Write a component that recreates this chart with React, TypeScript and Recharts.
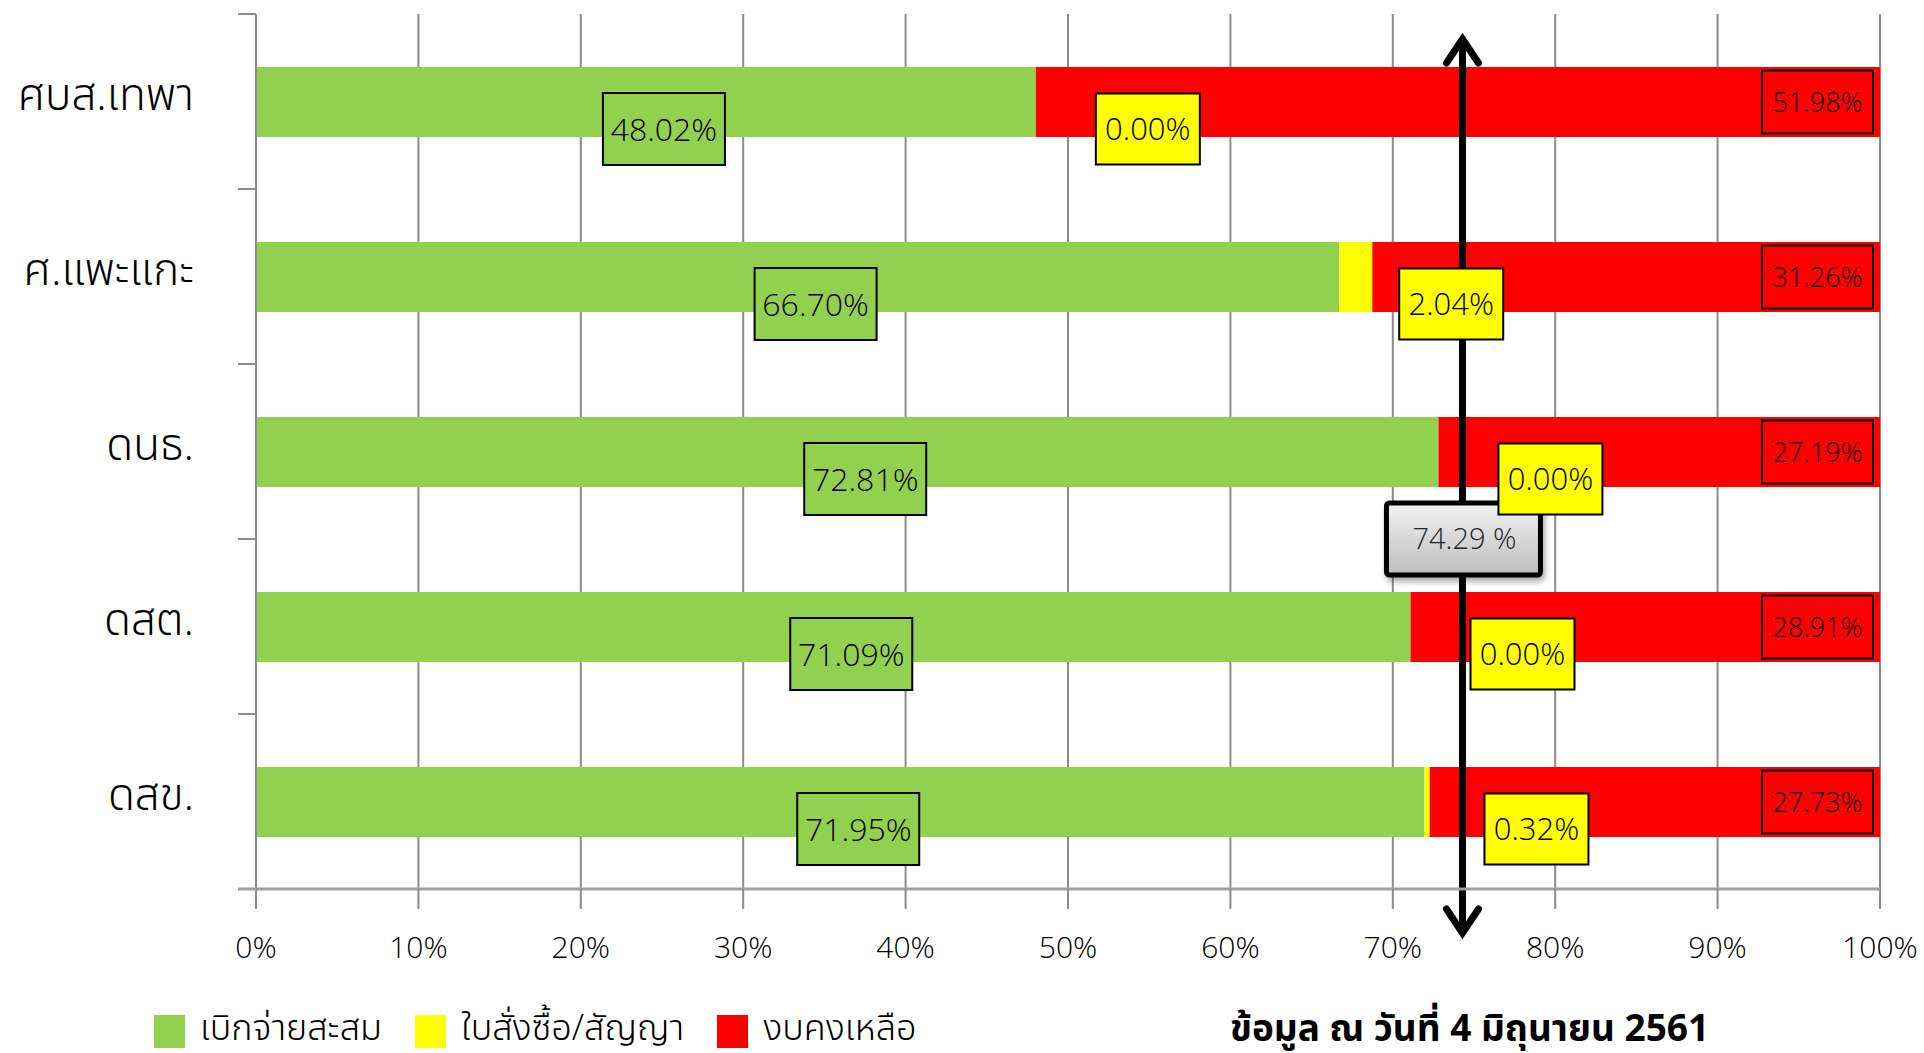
import React from 'react';
import {
  BarChart,
  Bar,
  XAxis,
  YAxis,
  CartesianGrid,
  LabelList,
  ReferenceLine,
} from 'recharts';

const units = ['ศบส.เทพา', 'ศ.แพะแกะ', 'ดนธ.', 'ดสต.', 'ดสข.'];
const disbursed = [48.02, 66.7, 72.81, 71.09, 71.95];
const committed = [0.0, 2.04, 0.0, 0.0, 0.32];
const remaining = [51.98, 31.26, 27.19, 28.91, 27.73];
const percentTicks = [0, 10, 20, 30, 40, 50, 60, 70, 80, 90, 100];
const target = 74.29;
const seriesNames = ['เบิกจ่ายสะสม', 'ใบสั่งซื้อ/สัญญา', 'งบคงเหลือ'];
const asOfNote = 'ข้อมูล ณ วันที่ 4 มิถุนายน 2561';

const data = units.map((name, i) => ({
  name,
  disbursed: disbursed[i],
  committed: committed[i],
  remaining: remaining[i],
}));

const W = 1924;
const H = 1053;
const TOP = 14;
const BOTTOM = 889;
const AXIS_LEFT = 256;
const RIGHT = 1880;
const BAND = (BOTTOM - TOP) / units.length;
const FONT = "'Open Sans', 'Noto Sans', 'Noto Sans Thai', sans-serif";
const GREEN = '#92D050';
const YELLOW = '#FFFF00';
const RED = '#FF0000';
const GRID = '#8c8c8c';

const CategoryTick = (props: any) => {
  const { x, y, payload, index } = props;
  const axisX = x + 62;
  return (
    <g>
      <line x1={axisX - 18} x2={axisX} y1={y - BAND / 2} y2={y - BAND / 2} stroke={GRID} strokeWidth={2} />
      {index === units.length - 1 && (
        <line x1={axisX - 18} x2={axisX} y1={y + BAND / 2} y2={y + BAND / 2} stroke="#a0a0a0" strokeWidth={3} />
      )}
      <text x={x} y={y} dy={8} textAnchor="end" fontSize={44} fontWeight={300} fill="#000" fontFamily={FONT}>
        {payload.value}
      </text>
    </g>
  );
};

const LabelBox = ({ cx, cy, w, h, fill, fontSize, text }: any) => (
  <g>
    <rect x={cx - w / 2} y={cy - h / 2} width={w} height={h} fill={fill} stroke="#000" strokeWidth={2} />
    <text
      x={cx}
      y={cy}
      dy={fontSize * 0.36}
      textAnchor="middle"
      fontSize={fontSize}
      fontWeight={300}
      fontFamily={FONT}
      fill="#000"
    >
      {text}
    </text>
  </g>
);

const pct = (v: number) => `${Number(v).toFixed(2)}%`;

// green label: below the middle of the green segment
const disbursedLabel = (props: any) => {
  const { x, y, width, height, value } = props;
  return (
    <LabelBox cx={x + width / 2 + 18} cy={y + height / 2 + 27} w={122} h={72} fill={GREEN} fontSize={32} text={pct(value)} />
  );
};

// yellow label: hung off the end of the green segment so zero-width segments still get one
const committedLabel = (props: any) => {
  const { x, y, width, height, value } = props;
  return (
    <LabelBox cx={x + width + 112} cy={y + height / 2 + 27} w={104} h={71} fill={YELLOW} fontSize={31} text={pct(value)} />
  );
};

// red label: inside the right end of the bar
const remainingLabel = (props: any) => {
  const { x, y, width, height, value } = props;
  return (
    <LabelBox cx={x + width - 7 - 111 / 2} cy={y + height / 2} w={111} h={63} fill={RED} fontSize={27} text={pct(value)} />
  );
};

const TargetArrow = (props: any) => {
  const { x1, y1, y2 } = props;
  const top = Math.min(y1, y2);
  const bottom = Math.max(y1, y2);
  const tipTop = top + 25;
  const tipBottom = bottom + 44;
  const cy = top + (bottom - top) * 0.6;
  return (
    <g>
      <defs>
        <linearGradient id="calloutFill" x1="0" y1="0" x2="0" y2="1">
          <stop offset="0%" stopColor="#f2f2f2" />
          <stop offset="100%" stopColor="#bdbdbd" />
        </linearGradient>
        <filter id="calloutShadow" x="-20%" y="-20%" width="140%" height="150%">
          <feDropShadow dx="2" dy="4" stdDeviation="3" floodColor="#000" floodOpacity="0.35" />
        </filter>
      </defs>
      <line x1={x1} x2={x1} y1={tipTop + 3} y2={tipBottom - 3} stroke="#000" strokeWidth={7} />
      <polyline
        points={`${x1 - 16},${tipTop + 24} ${x1},${tipTop} ${x1 + 16},${tipTop + 24}`}
        fill="none"
        stroke="#000"
        strokeWidth={7}
        strokeLinecap="round"
      />
      <polyline
        points={`${x1 - 16},${tipBottom - 24} ${x1},${tipBottom} ${x1 + 16},${tipBottom - 24}`}
        fill="none"
        stroke="#000"
        strokeWidth={7}
        strokeLinecap="round"
      />
      <rect
        x={x1 - 76}
        y={cy - 36}
        width={154}
        height={72}
        rx={3}
        fill="url(#calloutFill)"
        stroke="#000"
        strokeWidth={5}
        filter="url(#calloutShadow)"
      />
      <text x={x1 + 2} y={cy} dy={10} textAnchor="middle" fontSize={29} fontWeight={300} fontFamily={FONT} fill="#262626">
        {`${target.toFixed(2)} %`}
      </text>
    </g>
  );
};

const legendColors = [GREEN, YELLOW, RED];

const App: React.FC = () => {
  return (
    <div style={{ position: 'absolute', left: 0, top: 0, width: W, height: H, background: '#fff', overflow: 'hidden' }}>
      <BarChart
        width={W}
        height={H}
        data={data}
        layout="vertical"
        margin={{ top: TOP, right: W - RIGHT, bottom: H - BOTTOM - 80, left: 0 }}
        barCategoryGap="60%"
      >
        <CartesianGrid horizontal={false} vertical stroke={GRID} strokeWidth={2} />
        <XAxis
          type="number"
          domain={[0, 100]}
          ticks={percentTicks}
          tickFormatter={(v) => `${v}%`}
          height={80}
          tickSize={20}
          tickMargin={28}
          tickLine={{ stroke: GRID, strokeWidth: 2 }}
          axisLine={{ stroke: '#a0a0a0', strokeWidth: 3 }}
          tick={{ fill: '#000', fontSize: 30, fontWeight: 300, fontFamily: FONT }}
          interval={0}
        />
        <YAxis
          type="category"
          dataKey="name"
          width={AXIS_LEFT}
          tickLine={false}
          tickSize={0}
          tickMargin={62}
          axisLine={{ stroke: GRID, strokeWidth: 2 }}
          tick={<CategoryTick />}
          interval={0}
        />
        <Bar dataKey="disbursed" stackId="a" fill={GREEN} barSize={70} isAnimationActive={false}>
          <LabelList dataKey="disbursed" content={disbursedLabel} />
          <LabelList dataKey="committed" content={committedLabel} />
        </Bar>
        <Bar dataKey="committed" stackId="a" fill={YELLOW} barSize={70} isAnimationActive={false} />
        <Bar dataKey="remaining" stackId="a" fill={RED} barSize={70} isAnimationActive={false}>
          <LabelList dataKey="remaining" content={remainingLabel} />
        </Bar>
        <ReferenceLine x={target} shape={<TargetArrow />} />
      </BarChart>

      <div
        style={{
          position: 'absolute',
          left: 154,
          top: 1002,
          display: 'flex',
          alignItems: 'center',
          gap: 33,
          fontFamily: FONT,
          fontSize: 36,
          fontWeight: 300,
          lineHeight: '50px',
        }}
      >
        {seriesNames.map((s, i) => (
          <div key={s} style={{ display: 'flex', alignItems: 'center', gap: 15 }}>
            <span style={{ width: 31, height: 33, background: legendColors[i], display: 'inline-block', marginTop: 8 }} />
            <span>{s}</span>
          </div>
        ))}
      </div>
      <div
        style={{
          position: 'absolute',
          left: 1230,
          top: 1002,
          fontFamily: FONT,
          fontSize: 37,
          fontWeight: 'bold',
          lineHeight: '50px',
        }}
      >
        {asOfNote}
      </div>
    </div>
  );
};

export default App;
